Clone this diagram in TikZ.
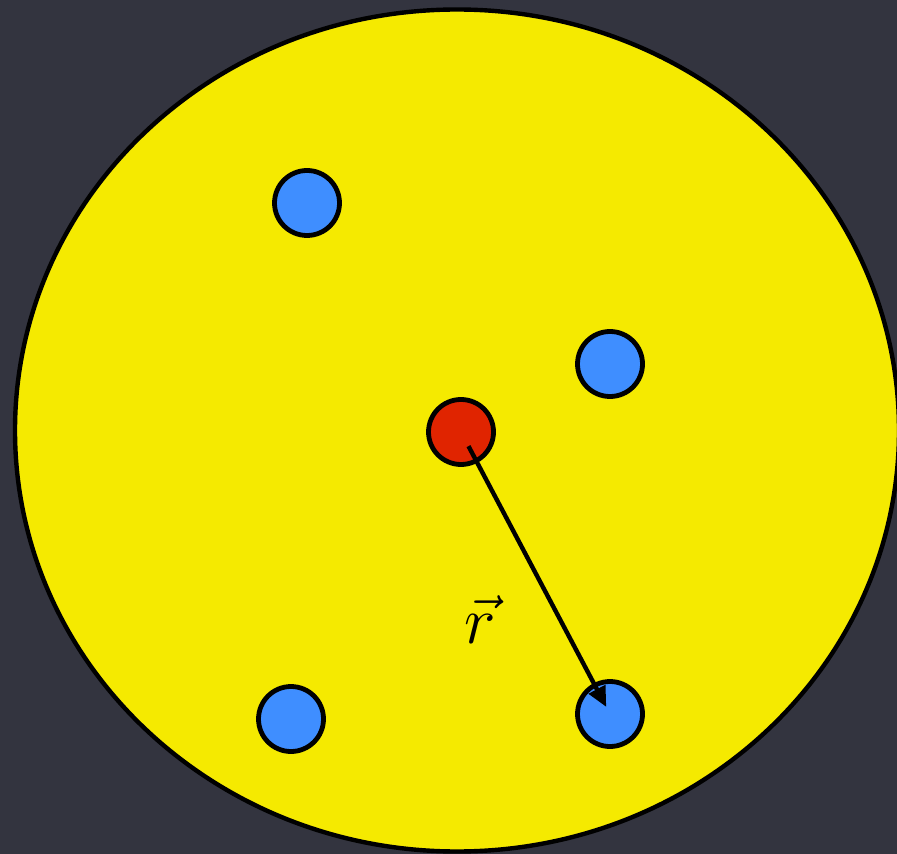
\documentclass[tikz,border=0pt]{standalone}
\usepackage{tikz}
\usetikzlibrary{arrows.meta, positioning, shapes.geometric}
\definecolor{bgdark}{HTML}{33343F}
\definecolor{disc}{HTML}{F5EA00}
\definecolor{ionblue}{HTML}{3F8EFF}
\definecolor{ionred}{HTML}{E02400}
\tikzset{
  particle/.style={circle,draw,line width=2.4pt,minimum size=32.5pt,inner sep=0pt},
  blueion/.style={particle,fill=ionblue},
  redion/.style={particle,fill=ionred},
  line/.style={-{Triangle[length=10pt,width=9pt]},line width=2.2pt}
}

\begin{document}
\begin{tikzpicture}[x=0.5pt,y=-0.5pt]
\fill[bgdark] (0,0) rectangle (897,854);
\useasboundingbox (0,0) rectangle (897,854);
\draw[fill=disc,line width=2.2pt] (457,430.5) ellipse [x radius=221pt,y radius=210.5pt];
\node[blueion] (b1) at (307,203) {};
\node[blueion] (b2) at (610,364) {};
\node[redion] (c) at (461,432) {};
\node[blueion] (b3) at (291,719) {};
\node[blueion] (b4) at (610,714) {};
\draw[line,shorten <=8pt,shorten >=4pt] (c.center) -- (b4.center);
\node[scale=1.35] (rv) at (480,620) {\Huge$\vec{r}$};
\end{tikzpicture}
\end{document}
